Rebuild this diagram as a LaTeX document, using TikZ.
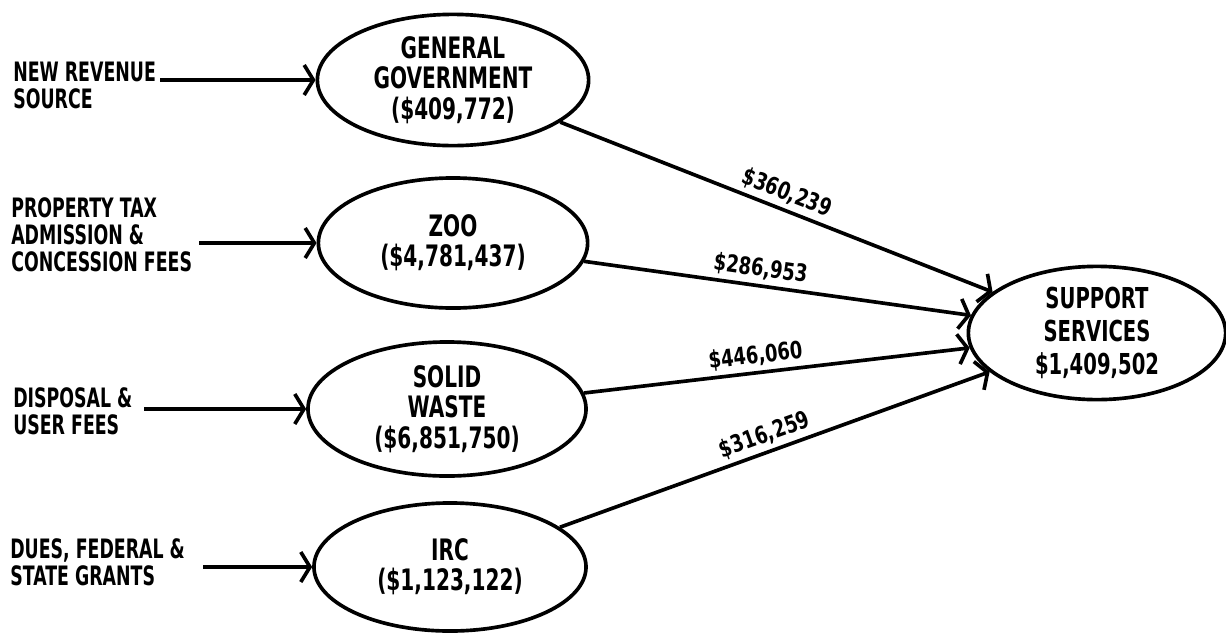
\documentclass[tikz,border=0pt]{standalone}
\usepackage{fontspec}
\usetikzlibrary{arrows.meta,shapes.geometric}
\newfontfamily\srcfont[FakeStretch=0.65]{DejaVu Sans}
\newfontfamily\ellfont[FakeStretch=0.68]{DejaVu Sans}
\newfontfamily\amtfont[FakeStretch=0.75]{DejaVu Sans}
\tikzset{
  fund/.style={ellipse,draw=black,line width=2.6pt,inner sep=0pt,align=center,font=\ellfont\bfseries\fontsize{21}{21.5}\selectfont},
  hub/.style={fund,font=\ellfont\bfseries\fontsize{20.5}{23.5}\selectfont},
  src/.style={anchor=north west,inner sep=0pt,align=left,font=\srcfont\bfseries\fontsize{19}{19.2}\selectfont},
  feed/.style={-{Straight Barb[length=2.3mm,width=7.5mm]},line width=2.6pt},
  amt/.style={sloped,above,inner sep=3pt,font=\amtfont\bfseries\fontsize{17}{18}\selectfont},
}
\begin{document}
\begin{tikzpicture}[x=0.025cm,y=-0.025cm]
  \useasboundingbox (0,0) rectangle (1226,633);
  \node[fund,minimum width=6.78cm,minimum height=3.28cm] (gg) at (453,80) {GENERAL\\GOVERNMENT\\(\$409,772)};
  \node[fund,minimum width=6.73cm,minimum height=3.25cm] (zoo) at (453,243) {ZOO\\(\$4,781,437)};
  \node[fund,minimum width=6.95cm,minimum height=3.35cm] (sw) at (447,409) {SOLID\\WASTE\\(\$6,851,750)};
  \node[fund,minimum width=6.80cm,minimum height=3.20cm] (irc) at (450,567) {IRC\\(\$1,123,122)};
  \node[hub,minimum width=6.43cm,minimum height=3.33cm] (ss) at (1097,333) {SUPPORT\\SERVICES\\\$1,409,502};

  \node[src] (rev) at (13,62) {NEW REVENUE\\SOURCE};
  \node[src] (tax) at (11,197) {PROPERTY TAX\\ADMISSION \&\\CONCESSION FEES};
  \node[src] (fees) at (13,387) {DISPOSAL \&\\USER FEES};
  \node[src] (grants) at (10,538) {DUES, FEDERAL \&\\STATE GRANTS};
  \coordinate (rev-e) at (160,80);
  \coordinate (tax-e) at (199,243);
  \coordinate (fees-e) at (144,409);
  \coordinate (grants-e) at (203,567);

  \draw[feed] (rev-e) -- (gg.west);
  \draw[feed] (tax-e) -- (zoo.west);
  \draw[feed] (fees-e) -- (sw.west);
  \draw[feed] (grants-e) -- (irc.west);

  \draw[feed] (gg) -- node[amt,pos=.51]{\$360,239} (ss);
  \draw[feed] (zoo) -- node[amt,pos=.45]{\$286,953} (ss);
  \draw[feed] (sw) -- node[amt,pos=.45]{\$446,060} (ss);
  \draw[feed] (irc) -- node[amt,pos=.49]{\$316,259} (ss);
\end{tikzpicture}
\end{document}
